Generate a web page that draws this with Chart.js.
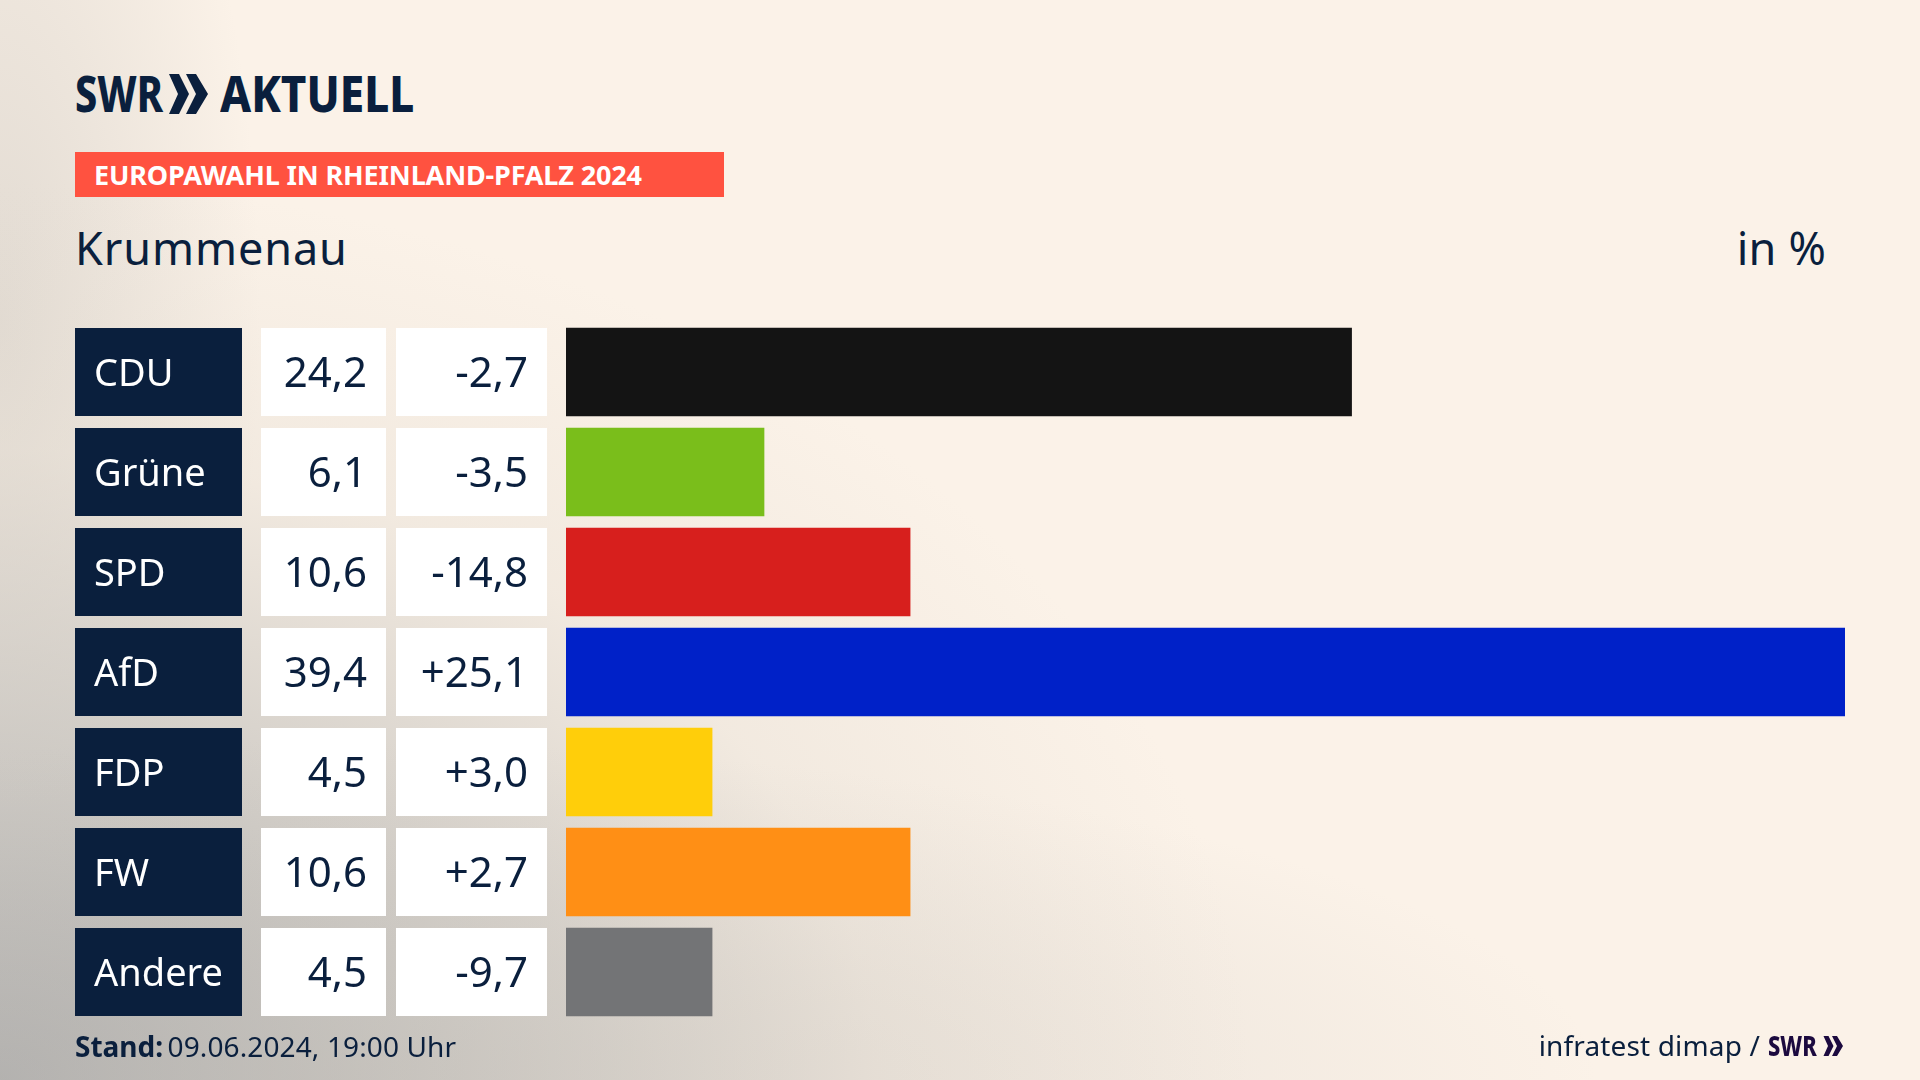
<!DOCTYPE html>
<html lang="de">
<head>
<meta charset="utf-8">
<title>Europawahl Krummenau</title>
<script src="https://cdn.jsdelivr.net/npm/chart.js@4"></script>
<style>
    html, body { margin: 0; padding: 0; width: 1920px; height: 1080px; overflow: hidden; }
    body {
        position: relative;
        font-family: "Noto Sans", sans-serif;
        color: #0a1f3d;
        background:
            radial-gradient(ellipse 1300px 340px at 300px 1080px, rgba(190,186,180,0.45) 0%, rgba(251,242,232,0) 100%),
            radial-gradient(ellipse 1250px 900px at 0px 1080px, rgba(170,170,170,0.95) 0%, rgba(190,188,184,0.7) 35%, rgba(225,218,208,0.35) 70%, rgba(251,242,232,0) 100%),
            radial-gradient(ellipse 260px 700px at 0px 320px, rgba(200,195,188,0.5) 0%, rgba(251,242,232,0) 100%),
            #fbf2e8;
    }
    #chart { position: absolute; left: 0; top: 0; }
    .abs { position: absolute; white-space: nowrap; }
    .logo { top: 62px; font-size: 50px; font-weight: 800; line-height: 62px; transform-origin: left top; }
    #logo1 { left: 75px; transform: scaleX(0.79); }
    #logo2 { left: 220px; transform: scaleX(0.88); }
    #band { left: 75px; top: 152px; width: 649px; height: 45px; background: #ff5240; }
    #bandtext { left: 94px; top: 158px; font-size: 27px; line-height: 33px; font-weight: 700; color: #fff; letter-spacing: -0.15px; }
    #ort { left: 75px; top: 218px; font-size: 45px; line-height: 60px; letter-spacing: 0.9px; }
    #einheit { right: 94px; top: 218px; font-size: 45px; line-height: 60px; letter-spacing: 0.2px; }
    #stand { left: 75px; top: 1026px; font-size: 28px; line-height: 40px; letter-spacing: 0.12px; }
    #stand b { margin-right: -3px; letter-spacing: 0; }
    #quelle { right: 160px; top: 1025px; font-size: 28px; line-height: 40px; letter-spacing: 0.15px; }
    #swr2 { left: 1768px; top: 1025px; font-size: 28px; line-height: 40px; font-weight: 800; color: #1c0a3f; transform-origin: left top; transform: scaleX(0.78); }
</style>
</head>
<body>
<div class="abs logo" id="logo1">SWR</div>
<svg class="abs" style="left:169px;top:74px" width="40" height="40" viewBox="0 0 40 40">
    <polygon points="0,0 10,0 20,20 10,40 0,40 9,20" fill="#0a1f3d"/>
    <polygon points="17,0 27,0 39,20 27,40 17,40 27,20" fill="#0a1f3d"/>
</svg>
<div class="abs logo" id="logo2">AKTUELL</div>
<div class="abs" id="band"></div>
<div class="abs" id="bandtext">EUROPAWAHL IN RHEINLAND-PFALZ 2024</div>
<div class="abs" id="ort">Krummenau</div>
<div class="abs" id="einheit">in %</div>
<canvas id="chart" width="1920" height="1080"></canvas>
<div class="abs" id="stand"><b>Stand:</b> 09.06.2024, 19:00 Uhr</div>
<div class="abs" id="quelle">infratest dimap /</div>
<div class="abs" id="swr2">SWR</div>
<svg class="abs" style="left:1822px;top:1036px" width="23" height="20" viewBox="0 0 40 40">
    <polygon points="0,0 10,0 20,20 10,40 0,40 9,20" fill="#1c0a3f"/>
    <polygon points="17,0 27,0 39,20 27,40 17,40 27,20" fill="#1c0a3f"/>
</svg>

<script>
// Daten
const parteien = ['CDU', 'Grüne', 'SPD', 'AfD', 'FDP', 'FW', 'Andere'];
const anteile = [24.2, 6.1, 10.6, 39.4, 4.5, 10.6, 4.5];
const differenzen = [-2.7, -3.5, -14.8, 25.1, 3.0, 2.7, -9.7];
const farben = ['#141414', '#7abe1b', '#d71f1d', '#0021c8', '#ffce0a', '#ff8f15', '#737476'];

const NAVY = '#0a1f3d';
const ZEILE = 88;

function komma(wert) {
    return wert.toFixed(1).replace('.', ',');
}

function mitVorzeichen(wert) {
    return (wert > 0 ? '+' : '') + komma(wert);
}

// Tabelle links neben den Balken, Zeilen kommen von der y-Skala
const tabellePlugin = {
    id: 'tabelle',
    afterDatasetsDraw(chart) {
        const ctx = chart.ctx;
        const y = chart.scales.y;
        ctx.save();
        ctx.textBaseline = 'alphabetic';
        parteien.forEach(function(partei, i) {
            const mitte = y.getPixelForValue(i);
            const oben = mitte - ZEILE / 2;

            ctx.fillStyle = NAVY;
            ctx.fillRect(75, oben, 167, ZEILE);
            ctx.fillStyle = '#fff';
            ctx.fillRect(261, oben, 125, ZEILE);
            ctx.fillRect(396, oben, 151, ZEILE);

            ctx.font = '38px "Noto Sans"';
            ctx.textAlign = 'left';
            ctx.fillStyle = '#fff';
            ctx.fillText(partei, 94, mitte + 14);

            ctx.font = '42px "Noto Sans"';
            ctx.textAlign = 'right';
            ctx.fillStyle = NAVY;
            ctx.fillText(komma(anteile[i]), 367, mitte + 15);
            ctx.fillText(mitVorzeichen(differenzen[i]), 528, mitte + 15);
        });
        ctx.restore();
    }
};

new Chart(document.getElementById('chart'), {
    type: 'bar',
    data: {
        labels: parteien,
        datasets: [{
            data: anteile,
            backgroundColor: farben,
            borderWidth: 0,
            barThickness: ZEILE
        }]
    },
    options: {
        indexAxis: 'y',
        responsive: false,
        animation: false,
        devicePixelRatio: 1,
        // Balkenbereich 566-1845, Zeilen 322-1022
        layout: { padding: { left: 566, right: 75, top: 322, bottom: 58 } },
        plugins: { legend: { display: false }, tooltip: { enabled: false } },
        scales: {
            x: { display: false, min: 0, max: 39.4 },
            y: { display: false }
        }
    },
    plugins: [tabellePlugin]
});
</script>
</body>
</html>
